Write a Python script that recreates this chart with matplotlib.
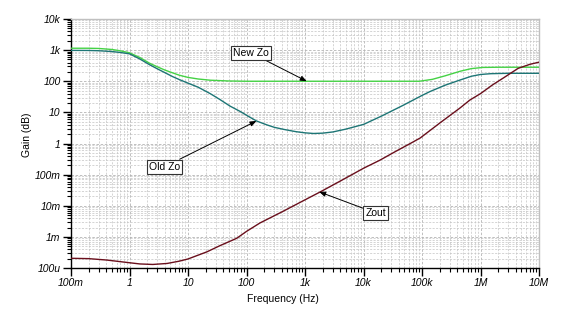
import matplotlib
matplotlib.use("Agg")
import matplotlib.pyplot as plt
from matplotlib.ticker import FixedLocator, LogLocator, NullFormatter, FixedFormatter

# ---- data ----
new_f = [0.1, 0.2, 0.3, 0.5, 0.7, 1, 1.5, 2.2, 3, 4, 5.5, 7.2, 10, 15, 24, 50, 100,
         1e3, 1e4, 9e4, 1.5e5, 2.5e5, 4.5e5, 7e5, 1.1e6, 2e6, 1e7]
new_z = [1150, 1150, 1130, 1050, 950, 820, 580, 380, 290, 230, 185, 155, 133, 118, 108, 102, 100,
         100, 100, 100, 115, 150, 210, 255, 278, 282, 282]

old_f = [0.1, 0.2, 0.3, 0.5, 0.7, 1, 1.5, 2.2, 3, 4, 5.5, 7.2, 10, 15, 24, 35, 52, 78, 110, 148,
         220, 300, 450, 700, 1e3, 1.4e3, 2e3, 3e3, 5e3, 1e4, 2e4, 4.8e4, 1e5, 1.38e5, 2.5e5,
         4.5e5, 7e5, 1e6, 1.5e6, 3e6, 1e7]
old_z = [980, 975, 955, 900, 840, 760, 520, 340, 250, 190, 140, 112, 87, 64, 40, 26, 16, 10.7, 7.3, 5.3,
         4.0, 3.3, 2.8, 2.4, 2.2, 2.1, 2.15, 2.35, 2.9, 4.1, 7.5, 17, 35, 47, 75,
         110, 145, 165, 175, 180, 180]

zout_f = [0.1, 0.2, 0.41, 0.8, 1.5, 2.5, 4.4, 7, 10, 15, 21, 35, 68, 100, 170, 400, 1e3, 1.8e3,
          4e3, 1e4, 1.9e4, 3.5e4, 6.3e4, 9.3e4, 2e5, 4.5e5, 6.6e5, 1e6, 1.6e6, 2.5e6, 4.4e6, 7e6, 1e7]
zout_z = [2.05e-4, 2.0e-4, 1.8e-4, 1.55e-4, 1.35e-4, 1.3e-4, 1.4e-4, 1.65e-4, 1.95e-4, 2.6e-4, 3.3e-4,
          5.2e-4, 9e-4, 1.5e-3, 2.8e-3, 6.3e-3, 1.55e-2, 2.75e-2, 6.2e-2, 0.16, 0.29, 0.55, 1.0, 1.5,
          4.5, 14, 25, 40, 76, 130, 260, 350, 410]

x_ticks = [0.1, 1, 10, 100, 1e3, 1e4, 1e5, 1e6, 1e7]
x_labels = ["100m", "1", "10", "100", "1k", "10k", "100k", "1M", "10M"]
y_ticks = [1e-4, 1e-3, 1e-2, 0.1, 1, 10, 100, 1e3, 1e4]
y_labels = ["100u", "1m", "10m", "100m", "1", "10", "100", "1k", "10k"]

plt.rcParams['font.family'] = ['Liberation Sans', 'DejaVu Sans']

fig = plt.figure(figsize=(5.78, 3.27), dpi=100)
ax = fig.add_axes([71/578, 1 - 268/327, (539 - 71)/578, (268 - 19)/327])
ax.set_xscale('log')
ax.set_yscale('log')
ax.set_xlim(0.1, 1e7)
ax.set_ylim(1e-4, 1e4)

ax.plot(new_f, new_z, color='#45d245', lw=1.0, zorder=3)
ax.plot(old_f, old_z, color='#1d7575', lw=1.0, zorder=3)
ax.plot(zout_f, zout_z, color='#6a0f1c', lw=1.0, zorder=3)

ax.xaxis.set_major_locator(FixedLocator(x_ticks))
ax.xaxis.set_major_formatter(FixedFormatter(x_labels))
ax.yaxis.set_major_locator(FixedLocator(y_ticks))
ax.yaxis.set_major_formatter(FixedFormatter(y_labels))
ax.xaxis.set_minor_locator(LogLocator(base=10, subs=range(2, 10), numticks=100))
ax.yaxis.set_minor_locator(LogLocator(base=10, subs=range(2, 10), numticks=100))
ax.xaxis.set_minor_formatter(NullFormatter())
ax.yaxis.set_minor_formatter(NullFormatter())

for lab in ax.get_xticklabels() + ax.get_yticklabels():
    lab.set_fontstyle('italic')
    lab.set_fontsize(7.5)
ax.tick_params(which='major', direction='out', length=5.5, width=1.0, pad=2)
ax.tick_params(which='minor', direction='out', length=2.8, width=0.8)

ax.grid(which='major', color='#b4b4b4', ls=(0, (3, 2)), lw=0.6)
ax.grid(which='minor', color='#c4c4c4', ls=(0, (3, 2)), lw=0.5)
ax.set_axisbelow(True)

for s in ['top', 'right']:
    ax.spines[s].set_color('#c0c0c0')
    ax.spines[s].set_linewidth(1.0)
for s in ['left', 'bottom']:
    ax.spines[s].set_color('black')
    ax.spines[s].set_linewidth(1.0)

ax.set_xlabel('Frequency (Hz)', fontsize=7.5)
ax.set_ylabel('Gain (dB)', fontsize=7.5)
ax.xaxis.set_label_coords((283 - 71) / 468, (268 - 294) / 249)
ax.yaxis.set_label_coords((32 - 71) / 468, (268 - 135) / 249)

box = dict(boxstyle='square,pad=0.2', fc='white', ec='#333333', lw=0.8)
arrow = dict(arrowstyle='-|>,head_length=0.5,head_width=0.2', color='black', lw=0.7, shrinkA=0, shrinkB=0)

ax.annotate('New Zo', xy=(1.07e3, 100), xytext=(120, 810), fontsize=7.5,
            ha='center', va='center', bbox=box, arrowprops=arrow, zorder=5)
ax.annotate('Old Zo', xy=(148, 5.3), xytext=(4.0, 0.18), fontsize=7.5,
            ha='center', va='center', bbox=box, arrowprops=arrow, zorder=5)
ax.annotate('Zout', xy=(1.75e3, 0.028), xytext=(1.6e4, 5.9e-3), fontsize=7.5,
            ha='center', va='center', bbox=box, arrowprops=arrow, zorder=5)

fig.savefig('out.png', dpi=100)
